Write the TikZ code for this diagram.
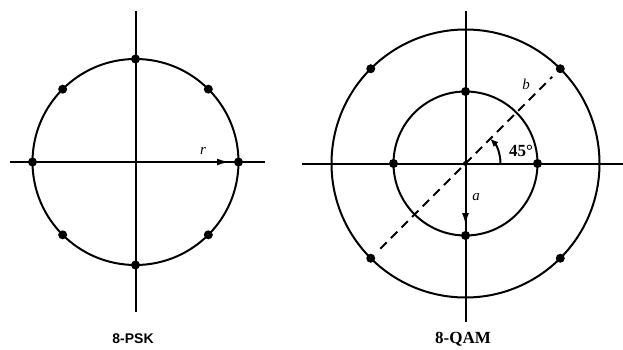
\documentclass[tikz,border=0pt]{standalone}
\usepackage{fontspec}
\setmainfont{Liberation Serif}
\newfontfamily\labsans{Liberation Sans}
\usetikzlibrary{arrows.meta,calc}
\begin{document}
\begin{tikzpicture}[x=1pt,y=-1pt,
  line width=2pt,
  dot/.style={circle,fill=black,inner sep=0pt,minimum size=9pt},
  arr/.style={-{Latex[length=12pt,width=7pt]}},
  lab/.style={font=\fontsize{15}{15}\selectfont\itshape,inner sep=0pt}]
\useasboundingbox (0,0) rectangle (623,350);
% ---------- 8-PSK ----------
\coordinate (c1) at (135.5,162);
\coordinate (v1t) at (135.5,11);
\coordinate (v1b) at (135.5,312);
\coordinate (h1l) at (10,162);
\coordinate (h1r) at (265,162);
\draw (v1t) -- (v1b);
\draw (h1l) -- (h1r);
\draw (c1) circle[radius=103pt];
\foreach \a in {0,45,...,315}{
  \node[dot] (p\a) at ($(c1)+(\a:103pt)$) {};
}
\draw[arr,shorten >=4pt] (c1) -- (p0);
\node[lab] (r) at (203,151) {r};
\node[font=\fontsize{14}{14}\selectfont\labsans\bfseries] (t1) at (133,339) {8-PSK};
% ---------- 8-QAM ----------
\coordinate (c2) at (465.5,163.5);
\coordinate (v2t) at (465.5,11);
\coordinate (v2b) at (465.5,322);
\coordinate (h2l) at (302,163.5);
\coordinate (h2r) at (623,163.5);
\draw (v2t) -- (v2b);
\draw (h2l) -- (h2r);
\draw (c2) circle[radius=134pt];
\draw (c2) circle[radius=72pt];
\foreach \a in {0,90,180,270}{
  \node[dot] (i\a) at ($(c2)+(\a:72pt)$) {};
}
\foreach \a in {45,135,225,315}{
  \node[dot] (o\a) at ($(c2)+(\a:134pt)$) {};
}
\node[circle,fill=black,inner sep=0pt,minimum size=5pt] (c2dot) at (c2) {};
\draw[dashed,dash pattern=on 9pt off 6pt,shorten <=8pt,shorten >=6pt] (o225) -- (o45);
\draw[arr,shorten >=5pt] (c2) -- (i270);
\draw[-{Latex[length=8pt,width=7pt]}] ($(c2)+(0:35pt)$) arc[start angle=0,end angle=45,radius=35pt];
\node[lab] (a) at (476,197) {a};
\node[lab] (b) at (526,84) {b};
\node[font=\fontsize{17}{17}\selectfont\bfseries,inner sep=0pt] (ang) at (521,151) {45°};
\node[font=\fontsize{17}{17}\selectfont\bfseries,inner sep=0pt] (t2) at (463,339) {8-QAM};
\end{tikzpicture}
\end{document}
